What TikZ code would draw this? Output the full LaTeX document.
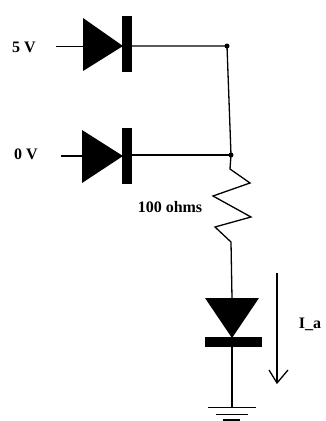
\documentclass[tikz,border=0pt]{standalone}
\usepackage{fontspec}
\setmainfont{Liberation Serif}
\tikzset{
  wire/.style={draw=black,line width=1.3pt},
  thinwire/.style={draw=black,line width=1pt},
  solidpart/.style={fill=black,draw=none},
  lbl/.style={font=\fontsize{16}{18}\selectfont\bfseries,inner sep=0pt,text=black},
  joint/.style={circle,fill=black,inner sep=0pt,minimum size=5pt}
}
\begin{document}
\begin{tikzpicture}[x=1pt,y=-1pt]
\useasboundingbox (0,0) rectangle (326,421);
% named points
\coordinate (in1) at (56,46);
\coordinate (a1) at (83,46);
\coordinate (k1) at (132,46);
\coordinate (in2) at (61,156);
\coordinate (a2) at (82,156);
\coordinate (k2) at (132,155);
\node[joint] (j1) at (227,46) {};
\node[joint] (j2) at (231,155) {};
\coordinate (r0) at (230,169);
\coordinate (r1) at (250,183);
\coordinate (r2) at (213,196);
\coordinate (r3) at (251,217);
\coordinate (r4) at (215,227);
\coordinate (r5) at (231,242);
\coordinate (a3) at (232,298);
\coordinate (k3) at (232,347);
\coordinate (g) at (232,407);
\coordinate (ia) at (277,273);
\coordinate (ib) at (277,383);
% diodes
\fill[solidpart] (83,18) -- (83,71) -- (123,46) -- cycle;
\fill[solidpart] (122,16) rectangle (132,72);
\fill[solidpart] (82,130) -- (82,183) -- (123,156) -- cycle;
\fill[solidpart] (122,128) rectangle (132,184);
\fill[solidpart] (205,298) -- (259,298) -- (232,338) -- cycle;
\fill[solidpart] (205,337) rectangle (262,347);
% wires
\draw[thinwire] (in1) -- (a1);
\draw[wire] (in2) -- (a2);
\draw[wire] (k1) -- (j1.center) -- (j2.center);
\draw[wire] (k2) -- (j2.center);
\draw[wire,line join=miter] (j2.center) -- (r0) -- (r1) -- (r2) -- (r3) -- (r4) -- (r5) -- (a3);
\draw[wire] (k3) -- (g);
% ground
\draw[thinwire] (208,407) -- (256,407);
\draw[wire] (216,414.5) -- (248,414.5);
\draw[wire] (223,420) -- (240,420);
% current arrow
\draw[wire] (ia) -- (ib);
\draw[wire] (269,370) -- (ib) -- (288,370);
% labels
\node[lbl] (l5) at (24,47) {5 V};
\node[lbl] (l0) at (26,154) {0 V};
\node[lbl] (lr) at (170,207) {100 ohms};
\node[lbl] (li) at (310,324) {I\_a};
\end{tikzpicture}
\end{document}
